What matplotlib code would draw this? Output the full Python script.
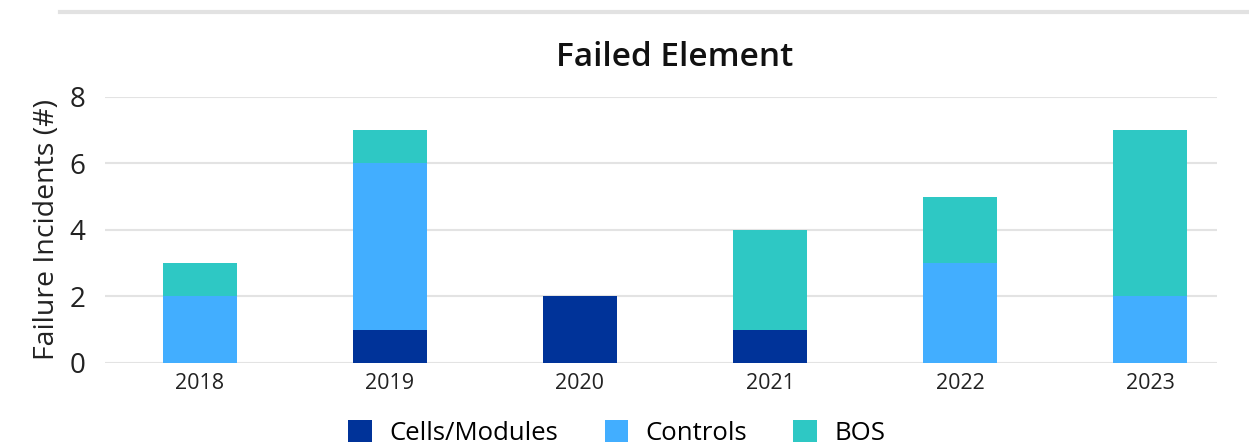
import numpy as np
import matplotlib.pyplot as plt
from matplotlib.lines import Line2D

years = ['2018', '2019', '2020', '2021', '2022', '2023']
cells_modules = [0, 1, 2, 1, 0, 0]
controls = [2, 5, 0, 0, 3, 2]
bos = [1, 1, 0, 3, 2, 5]

colors = {'Cells/Modules': '#003399', 'Controls': '#42AEFF', 'BOS': '#2EC8C4'}

plt.rcParams['font.family'] = ['Open Sans', 'DejaVu Sans']

fig = plt.figure(figsize=(12.49, 4.47), dpi=100)
ax = fig.add_axes([0.084, 0.188, 0.890, 0.595])

x = np.arange(len(years))
w = 0.39
bottom = np.zeros(len(years))
for name, vals in [('Cells/Modules', cells_modules), ('Controls', controls), ('BOS', bos)]:
    vals = np.array(vals)
    ax.bar(x, vals, w, bottom=bottom, color=colors[name], label=name, zorder=3)
    bottom += vals

ax.set_ylim(0, 8)
ax.set_xlim(-0.5, 5.35)
ax.set_yticks([0, 2, 4, 6, 8])
ax.set_xticks(x)
ax.set_xticklabels(years, fontsize=15.5, color='#222222')
ax.tick_params(axis='y', labelsize=20, colors='#222222', length=0, pad=14)
ax.tick_params(axis='x', length=0, pad=7)
ax.grid(axis='y', color='#e3e3e3', linewidth=1.5, zorder=0)
for s in ax.spines.values():
    s.set_visible(False)
ax.set_ylabel('Failure Incidents (#)', fontsize=20.5, color='#222222', labelpad=6)

fig.text(675 / 1249, 1 - 58 / 447, 'Failed Element', ha='center', va='center',
         fontsize=24, fontweight='semibold', color='#111111')

# thin gray rule at the top
fig.add_artist(Line2D([60 / 1249, 1.0], [1 - 12 / 447, 1 - 12 / 447],
                      color='#e2e2e2', linewidth=3))

fig.legend(loc='center', bbox_to_anchor=(617 / 1249, 1 - 433 / 447), ncol=3,
           frameon=False, fontsize=18.5, handlelength=0.9, handleheight=0.9,
           columnspacing=1.8, handletextpad=0.7)

fig.savefig('out.png', dpi=100)
